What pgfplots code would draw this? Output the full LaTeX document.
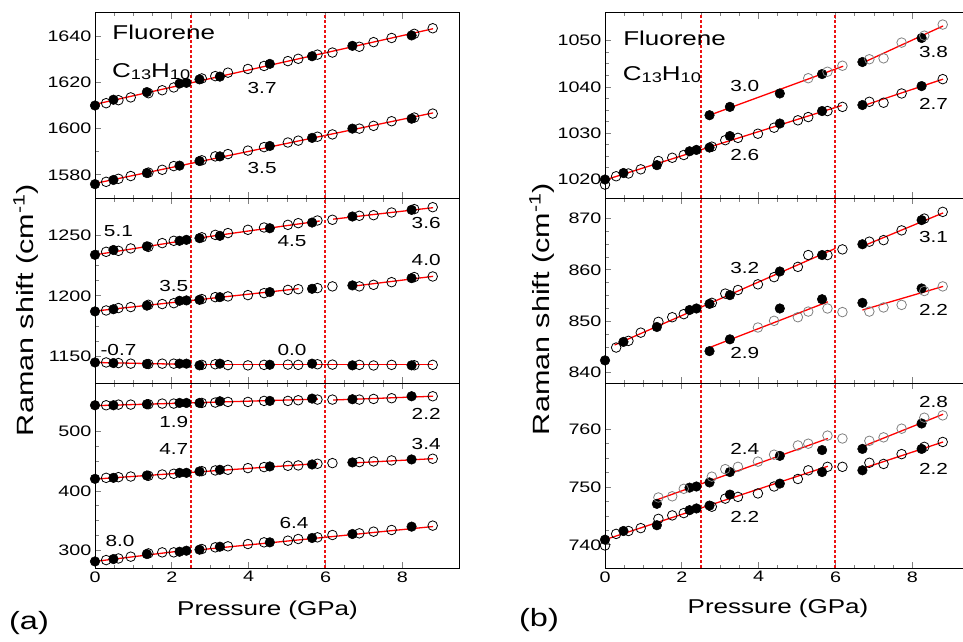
\documentclass[border=0pt]{standalone}
\usepackage{pgfplots}
\pgfplotsset{compat=1.18}
\usepackage{fontspec}
\setmainfont{Liberation Sans}[FakeStretch=1.3]

\newcommand\ann{\fontsize{16}{18}\selectfont}
\newcommand\titlefont{\fontsize{20}{22}\selectfont}
\newcommand\sub[1]{\raisebox{-2pt}{\fontsize{14}{14}\selectfont #1}}
\definecolor{phasered}{RGB}{235,20,20}

\pgfplotsset{
  panel/.style={scale only axis, width=365pt, height=185pt, xmin=0, xmax=9.5,
    xtick={0,2,4,6,8}, minor x tick num=3, minor y tick num=3,
    tick align=inside, xtick pos=both, ytick pos=left,
    major tick length=6pt, minor tick length=3.5pt,
    axis line style={line width=1pt}, tick style={line width=0.9pt},
    tick label style={font=\fontsize{15.2}{17}\selectfont},
    /pgf/number format/assume math mode=true,
    /pgf/number format/1000 sep={},
    anchor=north west},
  notx/.style={xticklabels={}},
  full/.style={only marks, mark=*, mark size=4.8pt, black, mark options={fill=black, line width=0.5pt}},
  hollow/.style={only marks, mark=o, mark size=4.8pt, black, mark options={line width=0.8pt}},
  hollowg/.style={hollow, gray},
  fit/.style={red, line width=1.3pt, no markers},
}
\tikzset{phase/.style={draw=phasered, line width=1.2pt, densely dashed}}

\begin{document}
\begin{tikzpicture}

% ---------- (a) top
\begin{axis}[panel, notx, at={(95pt,-13pt)}, ymin=1570, ymax=1650,
  ytick={1580,1600,1620,1640}, minor y tick num=1]
\addplot[full] coordinates {(0,1610) (0.48,1612.5) (1.35,1615.8) (2.2,1619.5) (2.38,1619.8) (2.72,1621.3) (3.25,1622.5) (4.55,1628) (5.65,1631.3) (6.70,1635.8) (8.24,1640.3)
  (0,1576) (0.48,1577.8) (1.35,1580.8) (2.2,1584) (2.72,1586) (3.25,1588) (4.55,1592.5) (5.65,1596) (6.70,1600) (8.24,1604.3)};
\addplot[hollow] coordinates {(0.29,1611) (0.61,1612.3) (0.93,1613.5) (1.39,1615.3) (1.75,1616.6) (2.05,1617.8) (2.78,1621.7) (3.13,1622.7) (3.46,1624.2) (3.98,1625.8) (4.40,1627.1) (5.02,1629.2) (5.29,1630.2) (5.79,1632) (6.18,1632.9) (6.88,1635.4) (7.25,1637.4) (7.72,1639.2) (8.31,1641) (8.79,1643.4)
  (0.29,1577) (0.61,1578.3) (0.93,1579.5) (1.39,1581) (1.75,1582.2) (2.05,1583.8) (2.78,1586.3) (3.13,1588) (3.46,1589) (3.98,1590.5) (4.40,1592) (5.02,1594) (5.29,1594.8) (5.79,1596.5) (6.18,1597.5) (6.88,1600) (7.25,1601.2) (7.72,1603.2) (8.31,1604.8) (8.79,1606.5)};
\addplot[fit] coordinates {(0,1610.5) (8.8,1643.2)};
\addplot[fit] coordinates {(0,1576.3) (8.8,1606.8)};
\draw[phase] (axis cs:2.5,1570) -- (axis cs:2.5,1650);
\draw[phase] (axis cs:5.988,1570) -- (axis cs:5.988,1650);
\node[font=\ann] at (axis cs:4.35,1617.6) {3.7};
\node[font=\ann] at (axis cs:4.35,1583) {3.5};
\node[font=\titlefont, anchor=base west, inner sep=0pt] at (axis cs:0.45,1638.6) {Fluorene};
\node[font=\titlefont, anchor=base west, inner sep=0pt] at (axis cs:0.44,1622) {C\sub{13}H\sub{10}};
\end{axis}

% ---------- (a) middle
\begin{axis}[panel, notx, at={(95pt,-198pt)}, ymin=1128, ymax=1281,
  ytick={1150,1200,1250}]
\addplot[full] coordinates {(0,1234) (0.48,1238) (1.35,1241) (2.2,1245.6) (2.38,1246.4) (2.72,1247.8) (3.25,1249.7) (4.55,1256) (5.65,1260.7) (6.70,1265.7) (8.24,1271.2)
  (0,1187.2) (0.48,1189) (1.35,1192) (2.2,1196) (2.38,1196.3) (2.72,1196.8) (3.25,1199) (4.55,1203.2) (5.65,1205.9) (6.70,1208.7) (8.24,1214.7)
  (0,1145) (0.48,1144.5) (1.35,1143.7) (2.2,1144) (2.38,1144) (2.72,1142.6) (3.25,1144) (4.55,1143.1) (5.65,1144) (6.70,1142.6) (8.24,1142.6)};
\addplot[hollow] coordinates {(0.29,1236.5) (0.61,1237.3) (0.93,1239.3) (1.39,1240.6) (1.75,1243.7) (2.05,1245.6) (2.78,1248.5) (3.13,1250.5) (3.46,1252) (3.98,1254.7) (4.40,1256.6) (5.02,1258.8) (5.29,1260.2) (5.79,1262.4) (6.18,1263) (6.88,1266.3) (7.25,1266.8) (7.72,1269) (8.31,1271.8) (8.79,1273.4)
  (0.29,1188) (0.61,1190) (0.93,1190.8) (1.39,1192.7) (1.75,1193.3) (2.05,1194) (2.78,1197.4) (3.13,1199) (3.46,1199.6) (3.98,1200.7) (4.40,1202.3) (5.02,1205) (5.29,1205.6) (5.79,1206.5) (6.18,1207.9) (6.88,1207.9) (7.25,1209.2) (7.72,1211.4) (8.31,1215.6) (8.79,1216.1)
  (0.29,1145) (0.61,1144.5) (0.93,1144) (1.39,1143.7) (1.75,1144) (2.05,1144) (2.78,1143) (3.13,1143.5) (3.46,1142.8) (3.98,1142.6) (4.40,1143) (5.02,1143.2) (5.29,1143) (5.79,1143.5) (6.18,1143.2) (6.88,1143) (7.25,1142.5) (7.72,1143) (8.31,1142.7) (8.79,1143)};
\addplot[fit] coordinates {(0,1234) (2.4,1246.2)};
\addplot[fit] coordinates {(2.72,1248) (5.85,1262)};
\addplot[fit] coordinates {(6.2,1263.5) (8.8,1273)};
\addplot[fit] coordinates {(0,1187.5) (5.3,1206)};
\addplot[fit] coordinates {(6.7,1208) (8.8,1216.2)};
\addplot[fit] coordinates {(0,1145) (2.4,1143.4)};
\addplot[fit] coordinates {(2.6,1143.3) (8.8,1143.3)};
\draw[phase] (axis cs:2.5,1128) -- (axis cs:2.5,1281);
\draw[phase] (axis cs:5.988,1128) -- (axis cs:5.988,1281);
\node[font=\ann] at (axis cs:0.61,1253.3) {5.1};
\node[font=\ann] at (axis cs:5.13,1245) {4.5};
\node[font=\ann] at (axis cs:8.62,1260) {3.6};
\node[font=\ann] at (axis cs:8.62,1230) {4.0};
\node[font=\ann] at (axis cs:2.05,1208) {3.5};
\node[font=\ann] at (axis cs:0.61,1155.5) {-0.7};
\node[font=\ann] at (axis cs:5.13,1155.5) {0.0};
\end{axis}

% ---------- (a) bottom
\begin{axis}[panel, at={(95pt,-383pt)}, ymin=271, ymax=581,
  ytick={300,400,500}]
\addplot[full] coordinates {(0,543.7) (0.48,543.7) (1.35,545.4) (2.2,547.6) (2.38,547.6) (2.72,547.6) (3.25,550.4) (4.55,551) (5.65,554.9) (6.70,553.8) (8.24,558.8)
  (0,420.4) (0.48,422.1) (1.35,426) (2.2,430.5) (2.38,430.5) (2.72,432.8) (3.25,435.6) (4.55,441.2) (5.65,444.5) (6.70,447.9) (8.24,452.9)
  (0,282) (0.48,286) (1.35,294.4) (2.2,298.3) (2.38,300) (2.72,301.7) (3.25,306.7) (4.55,314) (5.65,321.3) (6.70,328) (8.24,340.3)};
\addplot[hollow] coordinates {(0.29,543.7) (0.61,544.8) (0.93,544.8) (1.39,545.4) (1.75,546.5) (2.05,546.5) (2.78,547.6) (3.13,548.2) (3.46,549.3) (3.98,549.3) (4.40,551) (5.02,551) (5.29,552.1) (5.79,553.2) (6.18,553.2) (6.88,553.2) (7.25,554.3) (7.72,555.5) (8.79,558.8)
  (0.29,422.1) (0.61,423.2) (0.93,424.3) (1.39,425.5) (1.75,427.7) (2.05,428.9) (2.78,433.3) (3.13,434.5) (3.46,435.6) (3.98,438.4) (4.40,440.1) (5.02,442.3) (5.29,442.9) (5.79,445.7) (6.18,446.8) (6.88,448.5) (7.25,449.6) (7.72,451.3) (8.79,454.1)
  (0.29,284.3) (0.61,287) (0.93,290) (1.39,295.5) (1.75,297.2) (2.05,297.2) (2.78,302.8) (3.13,305.6) (3.46,307.3) (3.98,311.2) (4.40,314) (5.02,316.8) (5.29,319.6) (5.79,322.4) (6.18,326.3) (6.88,329.1) (7.25,331.9) (7.72,334.7) (8.79,342)};
\addplot[fit] coordinates {(0,543) (5.8,554)};
\addplot[fit] coordinates {(6.2,552.5) (8.8,558.8)};
\addplot[fit] coordinates {(0,420) (5.8,446)};
\addplot[fit] coordinates {(6.7,447) (8.8,454.2)};
\addplot[fit] coordinates {(0,282) (2.4,301)};
\addplot[fit] coordinates {(2.75,301.7) (8.8,340.5)};
\draw[phase] (axis cs:2.5,271) -- (axis cs:2.5,581);
\draw[phase] (axis cs:5.988,271) -- (axis cs:5.988,581);
\node[font=\ann] at (axis cs:2.05,515.7) {1.9};
\node[font=\ann] at (axis cs:8.62,529.7) {2.2};
\node[font=\ann] at (axis cs:8.62,479.3) {3.4};
\node[font=\ann] at (axis cs:2.05,470.9) {4.7};
\node[font=\ann] at (axis cs:5.18,346) {6.4};
\node[font=\ann] at (axis cs:0.65,316.8) {8.0};
\end{axis}

% ---------- (b) top
\begin{axis}[panel, notx, at={(605pt,-13pt)}, ymin=1016, ymax=1056,
  ytick={1020,1030,1040,1050}]
\addplot[full] coordinates {(0,1020) (0.48,1021.4) (1.35,1023.1) (2.2,1026.1) (2.38,1026.4) (2.72,1026.9) (3.25,1029.4) (4.55,1032.1) (5.65,1034.8) (6.70,1036.1) (8.24,1040.2)
  (2.72,1033.9) (3.25,1035.7) (4.55,1038.6) (5.65,1042.8) (6.70,1045.4) (8.24,1050.6)};
\addplot[hollow] coordinates {(0,1018.9) (0.29,1020.7) (0.61,1021.3) (0.93,1022.2) (1.39,1024) (1.75,1024.7) (2.05,1025.3) (2.78,1027.1) (3.13,1028.5) (3.46,1029) (3.98,1029.9) (4.40,1031.2) (5.02,1032.8) (5.29,1033.5) (5.79,1034.8) (6.18,1035.7) (6.88,1036.8) (7.25,1036.6) (7.72,1038.6) (8.79,1041.7)};
\addplot[hollowg] coordinates {(5.29,1041.9) (5.79,1043.3) (6.18,1044.6) (6.88,1046) (7.25,1046.2) (7.72,1049.6) (8.31,1051.1) (8.79,1053.5)};
\addplot[fit] coordinates {(0,1019.9) (6.16,1036)};
\addplot[fit] coordinates {(6.7,1035.9) (8.8,1041.7)};
\addplot[fit] coordinates {(2.72,1033.9) (6.2,1044.5)};
\addplot[fit] coordinates {(6.7,1045.2) (8.8,1053.2)};
\draw[phase] (axis cs:2.5,1016) -- (axis cs:2.5,1056);
\draw[phase] (axis cs:5.988,1016) -- (axis cs:5.988,1056);
\node[font=\ann] at (axis cs:3.64,1040.2) {3.0};
\node[font=\ann] at (axis cs:3.64,1025.3) {2.6};
\node[font=\ann] at (axis cs:8.55,1047.5) {3.8};
\node[font=\ann] at (axis cs:8.55,1036.3) {2.7};
\node[font=\titlefont, anchor=base west, inner sep=0pt] at (axis cs:0.47,1048.9) {Fluorene};
\node[font=\titlefont, anchor=base west, inner sep=0pt] at (axis cs:0.46,1041.3) {C\sub{13}H\sub{10}};
\end{axis}

% ---------- (b) middle
\begin{axis}[panel, notx, at={(605pt,-198pt)}, ymin=838, ymax=874,
  ytick={840,850,860,870}]
\addplot[full] coordinates {(0,842.4) (0.48,846) (1.35,848.9) (2.2,852.2) (2.38,852.5) (2.72,853.4) (3.25,855.1) (4.55,859.7) (5.65,862.9) (6.70,865) (8.24,869.7)
  (2.72,844.2) (3.25,846.5) (4.55,852.5) (5.65,854.3) (6.70,853.6) (8.24,856.4)};
\addplot[hollow] coordinates {(0.29,844.9) (0.61,846.2) (0.93,847.8) (1.39,849.9) (1.75,850.8) (2.05,851.4) (2.78,853.6) (3.13,855.4) (3.46,856.1) (3.98,857.2) (4.40,858.6) (5.02,860.6) (5.29,862.9) (5.79,862.9) (6.18,864) (6.88,865.5) (7.25,865.8) (7.72,867.7) (8.31,870) (8.79,871.3)};
\addplot[hollowg] coordinates {(3.98,848.8) (4.40,850.1) (5.02,850.8) (5.29,851.9) (5.79,852.5) (6.18,851.8) (6.88,851.9) (7.25,852.7) (7.72,853.2) (8.31,855.9) (8.79,856.8)};
\addplot[fit] coordinates {(0.25,845.4) (6.0,864.2)};
\addplot[fit] coordinates {(6.7,864.6) (8.8,871.1)};
\addplot[fit] coordinates {(2.72,844.9) (5.8,853.8)};
\addplot[fit] coordinates {(6.7,852.2) (8.8,856.8)};
\draw[phase] (axis cs:2.5,838) -- (axis cs:2.5,874);
\draw[phase] (axis cs:5.988,838) -- (axis cs:5.988,874);
\node[font=\ann] at (axis cs:3.64,860.3) {3.2};
\node[font=\ann] at (axis cs:3.64,843.9) {2.9};
\node[font=\ann] at (axis cs:8.55,866.4) {3.1};
\node[font=\ann] at (axis cs:8.55,852.3) {2.2};
\end{axis}

% ---------- (b) bottom
\begin{axis}[panel, at={(605pt,-383pt)}, ymin=736, ymax=768,
  ytick={740,750,760}]
\addplot[full] coordinates {(0,740.9) (0.48,742.4) (1.35,743.4) (2.2,746) (2.38,746.3) (2.72,746.8) (3.25,748.7) (4.55,750.6) (5.65,752.6) (6.70,752.9) (8.24,756.6)
  (1.35,747.1) (2.2,749.9) (2.38,750.1) (2.72,750.8) (3.25,752.6) (4.55,755.4) (5.65,756.4) (6.70,756.6) (8.24,761)};
\addplot[hollow] coordinates {(0,739.9) (0.29,741.9) (0.61,742.4) (0.93,742.9) (1.39,744.5) (1.75,745.1) (2.05,745.5) (2.78,746.6) (3.13,748) (3.46,748.3) (3.98,748.9) (4.40,750.1) (5.02,751.4) (5.29,752.9) (5.79,753.5) (6.18,753.5) (6.88,754.2) (7.25,754) (7.72,755.7) (8.31,756.95) (8.79,757.8)};
\addplot[hollowg] coordinates {(1.39,748.2) (1.75,748.4) (2.05,749.7) (2.78,751.8) (3.13,753.1) (3.46,753.5) (3.98,754.4) (4.40,755.6) (5.02,757.2) (5.29,757.5) (5.79,758.9) (6.18,758.4) (6.88,758) (7.25,758.6) (7.72,760.1) (8.31,762) (8.79,762.4)};
\addplot[fit] coordinates {(0,740.9) (5.8,753.6)};
\addplot[fit] coordinates {(6.7,753.2) (8.8,757.8)};
\addplot[fit] coordinates {(1.35,747.8) (5.8,758.4)};
\addplot[fit] coordinates {(6.7,757) (8.8,762.6)};
\draw[phase] (axis cs:2.5,736) -- (axis cs:2.5,768);
\draw[phase] (axis cs:5.988,736) -- (axis cs:5.988,768);
\node[font=\ann] at (axis cs:3.64,756.6) {2.4};
\node[font=\ann] at (axis cs:3.64,744.9) {2.2};
\node[font=\ann] at (axis cs:8.55,764.8) {2.8};
\node[font=\ann] at (axis cs:8.55,753.2) {2.2};
\end{axis}

% ---------- labels
\node[rotate=90, font=\fontsize{23.5}{26}\selectfont] at (26pt,-310pt) {Raman shift (cm\textsuperscript{-1})};
\node[rotate=90, font=\fontsize{23.5}{26}\selectfont] at (542pt,-309pt) {Raman shift (cm\textsuperscript{-1})};
\node[font=\fontsize{20}{22}\selectfont] at (267.5pt,-610pt) {Pressure (GPa)};
\node[font=\fontsize{20}{22}\selectfont] at (778pt,-608pt) {Pressure (GPa)};
\node[font=\fontsize{25}{27}\selectfont] at (29pt,-623pt) {(a)};
\node[font=\fontsize{25}{27}\selectfont] at (539pt,-620pt) {(b)};

\pgfresetboundingbox
\path[use as bounding box] (0pt,0pt) rectangle (963pt,-642pt);
\end{tikzpicture}
\end{document}
